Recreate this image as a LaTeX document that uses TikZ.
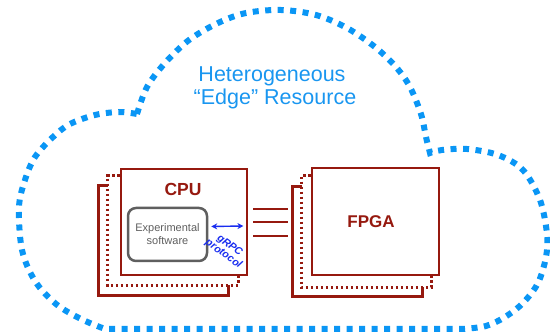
\documentclass[tikz,border=0pt]{standalone}
\usepackage{fontspec}
\setmainfont{Liberation Sans}
\usetikzlibrary{calc,arrows.meta}
\definecolor{cloudblue}{RGB}{10,150,245}
\definecolor{titleblue}{RGB}{25,150,240}
\definecolor{darkred}{RGB}{150,25,15}
\definecolor{protoblue}{RGB}{25,45,240}
\definecolor{swgray}{RGB}{95,95,95}
\tikzset{
  cloudline/.style={cloudblue, line width=6pt, dash pattern=on 6pt off 6.5pt},
  hwbox/.style={draw=darkred, line width=2.8pt, fill=white, inner sep=0pt},
  backsolid/.style={darkred, line width=2.6pt},
  backdotted/.style={darkred, line width=2.6pt, dash pattern=on 2.6pt off 2.4pt},
  link/.style={darkred, line width=2.8pt},
  swbox/.style={draw=swgray, line width=2.5pt, rounded corners=8pt, minimum width=79pt, minimum height=53pt, inner sep=0pt},
}
\begin{document}
\begin{tikzpicture}[x=1pt,y=-1pt]
\useasboundingbox (0,0) rectangle (550,334);
% cloud
\draw[cloudline]
  plot[smooth, tension=0.55] coordinates {(137,114) (147,87) (165,63) (189,40) (218,23) (246,13) (281,10) (316,15) (347,28) (375,47) (396,67) (410,87) (421,114) (426,137) (430,153)}
  -- plot[smooth, tension=0.55] coordinates {(430,153) (442,150) (467,149) (498,155) (523,170) (540,200) (547,234) (546,257) (538,283) (523,303) (505,317) (486,326) (463,329)}
  -- (105,329)
  -- plot[smooth, tension=0.55] coordinates {(105,329) (81,319) (56,304) (35,281) (22,250) (19,207) (25,180) (35,157) (53,137) (70,124) (95,115) (119,112) (137,114)};
% title
\node[anchor=base, text=titleblue, font=\fontsize{21.5}{23}\selectfont, inner sep=0pt] (title1) at (272,82) {Heterogeneous};
\node[anchor=base, text=titleblue, font=\fontsize{21.5}{23}\selectfont, inner sep=0pt] (title2) at (275,105) {“Edge” Resource};
% CPU box
\node[hwbox, minimum width=126pt, minimum height=106pt] (cpu) at (184,222) {};
\draw[backdotted] ($(cpu.north west)+(0,8)$) -- ($(cpu.north west)+(-12,8)$) -- ($(cpu.south west)+(-12,9)$) -- ($(cpu.south east)+(-10,9)$) -- ($(cpu.south east)+(-10,0)$);
\draw[backsolid] ($(cpu.north west)+(-12,18)$) -- ($(cpu.north west)+(-21,18)$) -- ($(cpu.south west)+(-21,19)$) -- ($(cpu.south east)+(-20,19)$) -- ($(cpu.south east)+(-20,9)$);
\node[anchor=base, text=darkred, font=\fontsize{17.5}{18}\selectfont\bfseries, inner sep=0pt] (cpulabel) at (183,196) {CPU};
\node[swbox, align=center, text=swgray, font=\fontsize{11}{13}\selectfont] (exp) at (167.5,234.5) {Experimental\\software};
\draw[protoblue, line width=1.4pt, {Stealth[length=6pt,width=6pt]}-{Stealth[length=6pt,width=6pt]}] ($(exp.east)+(3,-8)$) -- ($(cpu.east)+(-5,4)$);
\node[rotate=-36, align=center, text=protoblue, font=\fontsize{10.5}{10.5}\selectfont\bfseries\itshape, inner sep=0pt] (proto) at (226.5,250) {gRPC\\protocol};
% FPGA box
\node[hwbox, minimum width=127pt, minimum height=107pt] (fpga) at (375.5,221.5) {};
\draw[backdotted] ($(fpga.north west)+(0,9)$) -- ($(fpga.north west)+(-9,9)$) -- ($(fpga.south west)+(-9,11)$) -- ($(fpga.south east)+(-9,11)$) -- ($(fpga.south east)+(-9,0)$);
\draw[backsolid] ($(fpga.north west)+(-9,20)$) -- ($(fpga.north west)+(-18,20)$) -- ($(fpga.south west)+(-18,20)$) -- ($(fpga.south east)+(-18,20)$) -- ($(fpga.south east)+(-18,11)$);
\node[anchor=base, text=darkred, font=\fontsize{17}{18}\selectfont\bfseries, inner sep=0pt] (fpgalabel) at (371,228) {FPGA};
% links
\draw[link] ($(cpu.east)+(5,-13)$) -- ($(fpga.west)+(-23,-12.5)$);
\draw[link] ($(cpu.east)+(5,0)$) -- ($(fpga.west)+(-23,0.5)$);
\draw[link] ($(cpu.east)+(5,14)$) -- ($(fpga.west)+(-23,14.5)$);
\end{tikzpicture}
\end{document}
